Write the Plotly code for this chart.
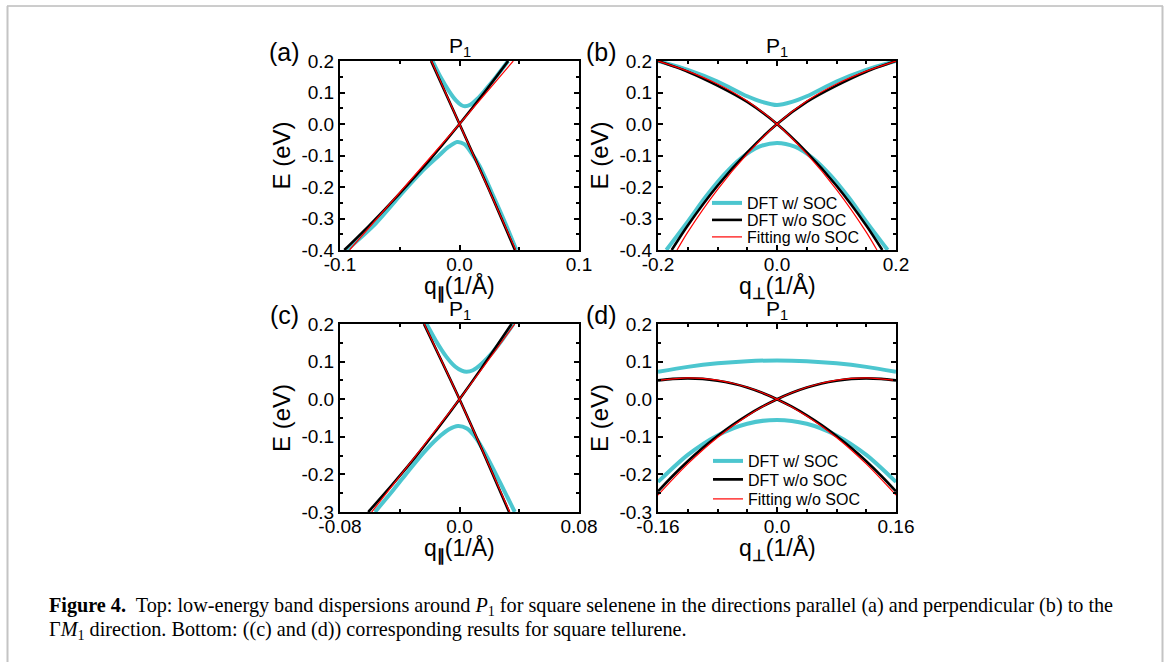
import plotly.graph_objects as go

# ---------------- data ----------------
# Panel (a): square selenene, q parallel
a_blk1_q = [-0.0964, -0.075, -0.05, -0.025, 0.0, 0.02, 0.0407]
a_blk1_E = [-0.4, -0.320, -0.220, -0.114, 0.0, 0.096, 0.2]
a_blk2_q = [-0.0238, 0.0, 0.0237, 0.0464]
a_blk2_E = [0.2, 0.0, -0.2, -0.4]
a_red1_q = [-0.092, 0.0, 0.045]
a_red1_E = [-0.4, 0.0, 0.2]
a_red2_q = [-0.0235, 0.0, 0.0236, 0.047]
a_red2_E = [0.2, 0.0, -0.2, -0.4]
a_cyu_q = [-0.0226, -0.016, -0.0085, -0.003, 0.0015, 0.0045, 0.009, 0.015, 0.022, 0.031, 0.0407]
a_cyu_E = [0.2, 0.150, 0.103, 0.075, 0.060, 0.056, 0.061, 0.080, 0.110, 0.152, 0.2]
a_cyl_q = [-0.0944, -0.07, -0.047, -0.03, -0.018, -0.009, -0.002, 0.004, 0.010, 0.017, 0.0267, 0.037, 0.0476]
a_cyl_E = [-0.4, -0.315, -0.215, -0.145, -0.103, -0.072, -0.057, -0.064, -0.092, -0.135, -0.215, -0.303, -0.4]

# Panel (b): square selenene, q perpendicular
b_blk_q = [-0.177, -0.15, -0.1, -0.05, 0.0, 0.05, 0.1, 0.15, 0.2]
b_blk_E = [-0.4, -0.322, -0.196, -0.09, 0.0, 0.07, 0.122, 0.166, 0.2]
b_red_q = [-0.168, -0.15, -0.1, -0.05, 0.0, 0.05, 0.1, 0.15, 0.2]
b_red_E = [-0.4, -0.343, -0.208, -0.095, 0.0, 0.073, 0.127, 0.168, 0.2]
b_cyu_q = [-0.2, -0.15, -0.1, -0.05, -0.025, 0.0, 0.025, 0.05, 0.1, 0.15, 0.2]
b_cyu_E = [0.2, 0.172, 0.135, 0.088, 0.070, 0.060, 0.070, 0.088, 0.135, 0.172, 0.2]
b_cyl_q = [-0.186, -0.15, -0.12, -0.09, -0.06, -0.03, 0.0, 0.03, 0.06, 0.09, 0.12, 0.15, 0.186]
b_cyl_E = [-0.4, -0.31, -0.232, -0.163, -0.108, -0.072, -0.06, -0.072, -0.108, -0.163, -0.232, -0.31, -0.4]

# Panel (c): square tellurene, q parallel
c_blk1_q = [-0.0611, -0.045, -0.03, -0.015, 0.0, 0.015, 0.0348]
c_blk1_E = [-0.3, -0.227, -0.156, -0.080, 0.0, 0.084, 0.2]
c_blk2_q = [-0.0238, 0.0, 0.0165, 0.0332]
c_blk2_E = [0.2, 0.0, -0.147, -0.3]
c_red1_q = [-0.0588, -0.03, 0.0, 0.037]
c_red1_E = [-0.3, -0.154, 0.0, 0.2]
c_red2_q = [-0.0236, 0.0, 0.0336]
c_red2_E = [0.2, 0.0, -0.3]
c_cyu_q = [-0.022, -0.016, -0.009, -0.003, 0.0015, 0.0047, 0.009, 0.015, 0.022, 0.029, 0.036]
c_cyu_E = [0.2, 0.157, 0.114, 0.087, 0.076, 0.073, 0.077, 0.095, 0.124, 0.16, 0.2]
c_cyl_q = [-0.0566, -0.045, -0.034, -0.024, -0.015, -0.007, -0.001, 0.005, 0.011, 0.018, 0.027, 0.037]
c_cyl_E = [-0.3, -0.245, -0.19, -0.142, -0.105, -0.08, -0.071, -0.078, -0.103, -0.15, -0.22, -0.3]

# Panel (d): square tellurene, q perpendicular
d_blk_q = [-0.16, -0.14, -0.12, -0.1, -0.08, -0.06, -0.04, -0.02, 0.0, 0.02, 0.04, 0.06, 0.08, 0.1, 0.12, 0.14, 0.16]
d_blk_E = [0.050, 0.054, 0.0555, 0.054, 0.049, 0.0415, 0.031, 0.017, 0.0, -0.020, -0.043, -0.069, -0.098, -0.130, -0.165, -0.2035, -0.245]
d_red_q = [-0.16, -0.12, -0.08, -0.04, 0.0, 0.04, 0.08, 0.12, 0.16]
d_red_E = [0.050, 0.0567, 0.0506, 0.0317, 0.0, -0.0445, -0.1018, -0.1721, -0.255]
d_cyu_q = [-0.16, -0.12, -0.08, -0.04, 0.0, 0.04, 0.08, 0.12, 0.16]
d_cyu_E = [0.073, 0.086, 0.0955, 0.1011, 0.103, 0.1011, 0.0955, 0.086, 0.073]
d_cyl_q = [-0.16, -0.12, -0.08, -0.04, 0.0, 0.04, 0.08, 0.12, 0.16]
d_cyl_E = [-0.220, -0.148, -0.0963, -0.0653, -0.055, -0.0653, -0.0963, -0.148, -0.220]

# tick labels
x_ticks_a = [-0.1, 0.0, 0.1]
x_text_a = ['-0.1', '0.0', '0.1']
x_ticks_b = [-0.2, 0.0, 0.2]
x_text_b = ['-0.2', '0.0', '0.2']
x_ticks_c = [-0.08, 0.0, 0.08]
x_text_c = ['-0.08', '0.0', '0.08']
x_ticks_d = [-0.16, 0.0, 0.16]
x_text_d = ['-0.16', '0.0', '0.16']
y_ticks_top = [-0.4, -0.3, -0.2, -0.1, 0.0, 0.1, 0.2]
y_text_top = ['-0.4', '-0.3', '-0.2', '-0.1', '0.0', '0.1', '0.2']
y_ticks_bot = [-0.3, -0.2, -0.1, 0.0, 0.1, 0.2]
y_text_bot = ['-0.3', '-0.2', '-0.1', '0.0', '0.1', '0.2']

legend_names = ['DFT w/ SOC', 'DFT w/o SOC', 'Fitting w/o SOC']

# ---------------- styling ----------------
W, H = 1170, 662
CYAN = '#4cc6cf'
BLACK = '#000000'
RED = '#ff0000'
SANS = 'Liberation Sans, Arial, sans-serif'
SERIF = 'Liberation Serif, Times New Roman, serif'


def px_x(p):
    return p / W


def px_y(p):
    return 1 - p / H


# panel boxes in pixels (left, right, top, bottom)
boxes = {
    'a': (340, 579, 61, 250),
    'b': (658, 896, 61, 250),
    'c': (340, 579, 324, 512),
    'd': (658, 896, 324, 512),
}

fig = go.Figure()

def line(xa, ya, q, E, color, width, name=None, legend=None, show=False):
    fig.add_trace(go.Scatter(
        x=q, y=E, mode='lines', xaxis=xa, yaxis=ya,
        line=dict(color=color, width=width, shape='spline', smoothing=0.8),
        name=name, showlegend=show, legend=legend, hoverinfo='skip'))

CW, BW, RW = 4, 2.6, 1.2

# (a)
line('x', 'y', a_cyu_q, a_cyu_E, CYAN, CW)
line('x', 'y', a_cyl_q, a_cyl_E, CYAN, CW)
line('x', 'y', a_blk1_q, a_blk1_E, BLACK, BW)
line('x', 'y', a_blk2_q, a_blk2_E, BLACK, BW)
line('x', 'y', a_red1_q, a_red1_E, RED, RW)
line('x', 'y', a_red2_q, a_red2_E, RED, RW)

# (b)  one legend box per entry so the row spacing can match
line('x2', 'y2', b_cyu_q, b_cyu_E, CYAN, CW, legend_names[0], 'legend', True)
line('x2', 'y2', b_cyl_q, b_cyl_E, CYAN, CW)
line('x2', 'y2', b_blk_q, b_blk_E, BLACK, BW, legend_names[1], 'legend2', True)
line('x2', 'y2', [-v for v in b_blk_q], b_blk_E, BLACK, BW)
line('x2', 'y2', b_red_q, b_red_E, RED, RW, legend_names[2], 'legend3', True)
line('x2', 'y2', [-v for v in b_red_q], b_red_E, RED, RW)

# (c)
line('x3', 'y3', c_cyu_q, c_cyu_E, CYAN, CW)
line('x3', 'y3', c_cyl_q, c_cyl_E, CYAN, CW)
line('x3', 'y3', c_blk1_q, c_blk1_E, BLACK, BW)
line('x3', 'y3', c_blk2_q, c_blk2_E, BLACK, BW)
line('x3', 'y3', c_red1_q, c_red1_E, RED, RW)
line('x3', 'y3', c_red2_q, c_red2_E, RED, RW)

# (d)
line('x4', 'y4', d_cyu_q, d_cyu_E, CYAN, CW, legend_names[0], 'legend4', True)
line('x4', 'y4', d_cyl_q, d_cyl_E, CYAN, CW)
line('x4', 'y4', d_blk_q, d_blk_E, BLACK, BW, legend_names[1], 'legend5', True)
line('x4', 'y4', [-v for v in d_blk_q], d_blk_E, BLACK, BW)
line('x4', 'y4', d_red_q, d_red_E, RED, RW, legend_names[2], 'legend6', True)
line('x4', 'y4', [-v for v in d_red_q], d_red_E, RED, RW)


def axis(domain, rng, tickvals, ticktext, anchor, minor_dtick, standoff=0):
    return dict(
        domain=domain, range=rng, anchor=anchor, automargin=False,
        tickmode='array', tickvals=tickvals, ticktext=ticktext,
        showline=True, linecolor='black', linewidth=2, mirror='ticks',
        ticks='inside', ticklen=5, tickwidth=1.5, tickcolor='black',
        showgrid=False, zeroline=False, ticklabelstandoff=standoff,
        tickfont=dict(family=SANS, size=19, color='black'),
        minor=dict(ticks='inside', ticklen=3, tickwidth=1.5, tickcolor='black',
                   tickmode='linear', dtick=minor_dtick, tick0=0, showgrid=False),
    )

layout_axes = {}
names = ['a', 'b', 'c', 'd']
xt = [(x_ticks_a, x_text_a, [-0.1, 0.1], 0.05),
      (x_ticks_b, x_text_b, [-0.2, 0.2], 0.05),
      (x_ticks_c, x_text_c, [-0.08, 0.08], 0.04),
      (x_ticks_d, x_text_d, [-0.16, 0.16], 0.04)]
yt = [(y_ticks_top, y_text_top, [-0.4, 0.2]),
      (y_ticks_top, y_text_top, [-0.4, 0.2]),
      (y_ticks_bot, y_text_bot, [-0.3, 0.2]),
      (y_ticks_bot, y_text_bot, [-0.3, 0.2])]
for i, n in enumerate(names):
    l, r, t, b = boxes[n]
    sfx = '' if i == 0 else str(i + 1)
    xd = [px_x(l), px_x(r)]
    yd = [px_y(b), px_y(t)]
    layout_axes['xaxis' + sfx] = axis(xd, xt[i][2], xt[i][0], xt[i][1], 'y' + sfx, xt[i][3], -4)
    layout_axes['yaxis' + sfx] = axis(yd, yt[i][2], yt[i][0], yt[i][1], 'x' + sfx, 0.05, 0)

fig.update_layout(**layout_axes)

annotations = []
def ann(text, x, y, size, family=SANS, xanchor='center', yanchor='middle', angle=0, align='center'):
    annotations.append(dict(text=text, x=px_x(x), y=px_y(y), xref='paper', yref='paper',
                            showarrow=False, xanchor=xanchor, yanchor=yanchor, textangle=angle,
                            align=align, font=dict(family=family, size=size, color='black')))

xtitles = ['q<sub><b>∥</b></sub>(1/Å)', 'q<sub><b>⊥</b></sub>(1/Å)',
           'q<sub><b>∥</b></sub>(1/Å)', 'q<sub><b>⊥</b></sub>(1/Å)']
labels = ['(a)', '(b)', '(c)', '(d)']
for i, n in enumerate(names):
    l, r, t, b = boxes[n]
    cx = (l + r) / 2
    cy = (t + b) / 2
    ann(xtitles[i], cx, b + 37, 23)
    ann('E (eV)', l - 59, cy, 24, angle=-90)
    ann('P<sub>1</sub>', cx, t + 1, 21, yanchor='bottom')
    ann(labels[i], l - 56, t - 9, 25)

cap1 = ('<b>Figure 4.</b>  Top: low-energy band dispersions around <i>P</i><sub>1</sub> for square selenene '
        'in the directions parallel (a) and perpendicular (b) to the')
cap2 = 'Γ<i>M</i><sub>1</sub> direction. Bottom: ((c) and (d)) corresponding results for square tellurene.'
ann(cap1, 47, 606, 20.2, family=SERIF, xanchor='left')
ann(cap2, 47, 630, 20.2, family=SERIF, xanchor='left')

shapes = [
    dict(type='line', xref='paper', yref='paper', x0=px_x(7), x1=px_x(1163), y0=px_y(6), y1=px_y(6),
         line=dict(color='#9a9a9a', width=1)),
    dict(type='line', xref='paper', yref='paper', x0=px_x(7.5), x1=px_x(7.5), y0=px_y(6), y1=0,
         line=dict(color='#c4c4c4', width=2)),
    dict(type='line', xref='paper', yref='paper', x0=px_x(1162.5), x1=px_x(1162.5), y0=px_y(6), y1=0,
         line=dict(color='#c4c4c4', width=2)),
]

def leg(xpx, row_center):
    return dict(bgcolor='rgba(0,0,0,0)', borderwidth=0,
                font=dict(family=SANS, size=16, color='black'),
                xanchor='left', yanchor='middle', x=px_x(xpx), y=px_y(row_center))

fig.update_layout(
    width=W, height=H, margin=dict(l=0, r=0, t=0, b=0, autoexpand=False),
    paper_bgcolor='white', plot_bgcolor='white',
    annotations=annotations, shapes=shapes,
    legend=leg(707, 203), legend2=leg(707, 220), legend3=leg(707, 237),
    legend4=leg(708, 461), legend5=leg(708, 479.5), legend6=leg(708, 499),
)

fig.write_html('out.html')
